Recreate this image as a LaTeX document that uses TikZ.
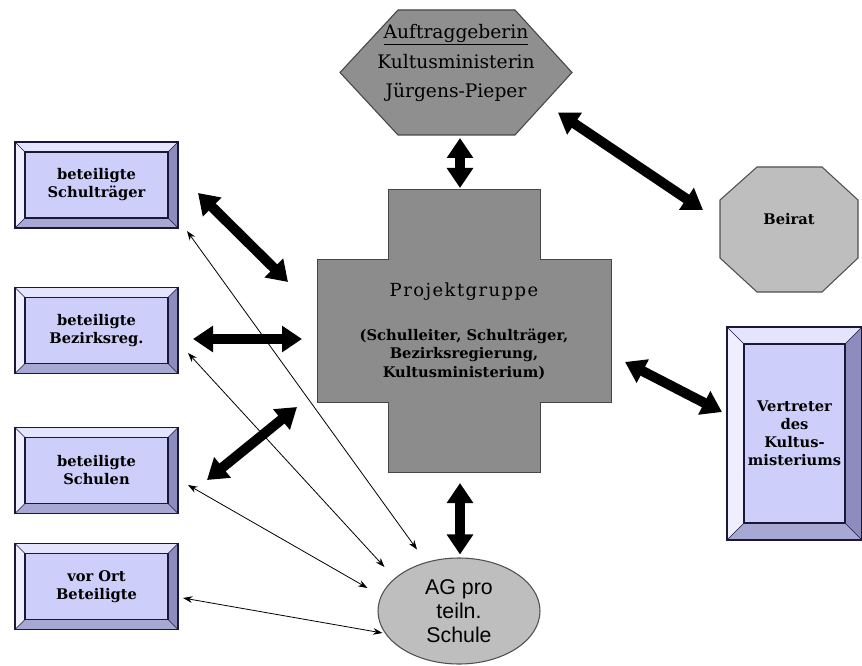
\documentclass[tikz,border=0pt]{standalone}
\usepackage{fontspec}
\setmainfont{DejaVu Serif}
\setsansfont{Liberation Sans}
\usetikzlibrary{arrows.meta,shapes.geometric}
\tikzset{every picture/.style={line width=0.75pt}}

\begin{document}
\begin{tikzpicture}[x=0.75pt,y=0.75pt,yscale=-1,xscale=1,
  bevelbox/.style={fill={rgb, 255:red, 206; green, 206; blue, 250}, inner sep=0pt, outer sep=0pt, align=center, font=\bfseries\fontsize{11}{13.5}\selectfont},
  bevtop/.style={fill={rgb, 255:red, 228; green, 228; blue, 252}},
  bevleft/.style={fill={rgb, 255:red, 238; green, 238; blue, 255}},
  bevright/.style={fill={rgb, 255:red, 140; green, 140; blue, 190}},
  bevbottom/.style={fill={rgb, 255:red, 168; green, 168; blue, 212}},
  boxline/.style={draw={rgb, 255:red, 25; green, 25; blue, 55}, line width=0.9pt},
  greyshape/.style={draw={rgb, 255:red, 70; green, 70; blue, 70}, fill={rgb, 255:red, 143; green, 143; blue, 143}, line width=0.8pt},
  lightshape/.style={draw={rgb, 255:red, 80; green, 80; blue, 80}, fill={rgb, 255:red, 190; green, 190; blue, 190}, line width=0.8pt},
  crossfill/.style={fill={rgb, 255:red, 140; green, 140; blue, 140}, inner sep=0pt, outer sep=0pt},
  geom/.style={inner sep=0pt, outer sep=0pt},
  bigarrow/.style={line width=7.5pt, {Triangle[length=15pt,width=19pt]}-{Triangle[length=15pt,width=19pt]}},
  thinarrow/.style={line width=0.6pt, {Stealth[length=7pt,width=5pt]}-{Stealth[length=7pt,width=5pt]}}
]
\useasboundingbox (0,0) rectangle (862,666);

%Shape: Hexagon
\draw[greyshape] (398,10) -- (515,10) -- (572,72.5) -- (515,135) -- (398,135) -- (340,72.5) -- cycle ;
\node[geom, minimum width=174pt, minimum height=93.75pt] (auftrag) at (456,72.5) {};
% Text Node
\node[align=center, font=\fontsize{14}{22}\selectfont] (auftragtext) at (456,63) {\underline{Auftraggeberin}\\Kultusministerin\\Jürgens-Pieper};

%Shape: Octagon
\draw[lightshape] (757,167) -- (822,167) -- (858,200) -- (858,258) -- (822,292) -- (757,292) -- (720,258) -- (720,200) -- cycle ;
\node[geom, minimum width=103.5pt, minimum height=93.75pt] (beirat) at (789,229.5) {};
% Text Node
\node[font=\bfseries\fontsize{11}{13}\selectfont] (beirattext) at (789,219) {Beirat};

%Shape: Cross
\node[crossfill, minimum width=114pt, minimum height=211.5pt] (projektv) at (464,331) {};
\node[crossfill, minimum width=220.5pt, minimum height=106.5pt, align=center, font=\bfseries\fontsize{11}{14}\selectfont] (projekt) at (464,331) {{\mdseries\fontsize{13.5}{14}\selectfont\addfontfeature{LetterSpace=8}Projektgruppe}\\[19pt](Schulleiter, Schulträger,\\Bezirksregierung,\\Kultusministerium)};
\draw[draw={rgb, 255:red, 70; green, 70; blue, 70}] (projektv.north west) -- (projektv.north east) -- (projektv.east |- projekt.north) -- (projekt.north east) -- (projekt.south east) -- (projektv.east |- projekt.south) -- (projektv.south east) -- (projektv.south west) -- (projektv.west |- projekt.south) -- (projekt.south west) -- (projekt.north west) -- (projektv.west |- projekt.north) -- cycle ;

%Shape: Ellipse
\node[ellipse, lightshape, minimum width=121.5pt, minimum height=79.5pt, inner sep=0pt, align=center, font=\sffamily\fontsize{16}{18}\selectfont] (ag) at (459,611) {AG pro\\teiln.\\Schule};

%Bevelled boxes
\node[bevelbox, minimum width=122.25pt, minimum height=64.5pt] (schultraeger) at (96.5,185) {beteiligte\\Schulträger};
\node[bevelbox, minimum width=122.25pt, minimum height=64.5pt] (bezirk) at (96.5,330.5) {beteiligte\\Bezirksreg.};
\node[bevelbox, minimum width=122.25pt, minimum height=64.5pt] (schulen) at (96.5,470.5) {beteiligte\\Schulen};
\node[bevelbox, minimum width=122.25pt, minimum height=64.5pt] (vorort) at (96.5,586.5) {vor Ort\\Beteiligte};
\node[bevelbox, minimum width=101.25pt, minimum height=159.75pt] (vertreter) at (794.5,433.5) {Vertreter\\des\\Kultus-\\misteriums};

\foreach \bx/\bw in {schultraeger/10,bezirk/10,schulen/10,vorort/10,vertreter/17} {
  \fill[bevtop] (\bx.north west) -- (\bx.north east) -- ([shift={(-\bw,\bw)}]\bx.north east) -- ([shift={(\bw,\bw)}]\bx.north west) -- cycle ;
  \fill[bevleft] (\bx.north west) -- ([shift={(\bw,\bw)}]\bx.north west) -- ([shift={(\bw,-\bw)}]\bx.south west) -- (\bx.south west) -- cycle ;
  \fill[bevright] (\bx.north east) -- ([shift={(-\bw,\bw)}]\bx.north east) -- ([shift={(-\bw,-\bw)}]\bx.south east) -- (\bx.south east) -- cycle ;
  \fill[bevbottom] (\bx.south west) -- ([shift={(\bw,-\bw)}]\bx.south west) -- ([shift={(-\bw,-\bw)}]\bx.south east) -- (\bx.south east) -- cycle ;
  \draw[boxline, line width=0.5pt] (\bx.north west) -- ([shift={(\bw,\bw)}]\bx.north west) (\bx.north east) -- ([shift={(-\bw,\bw)}]\bx.north east) (\bx.south west) -- ([shift={(\bw,-\bw)}]\bx.south west) (\bx.south east) -- ([shift={(-\bw,-\bw)}]\bx.south east) ;
  \draw[boxline] ([shift={(\bw,\bw)}]\bx.north west) rectangle ([shift={(-\bw,-\bw)}]\bx.south east) ;
  \draw[boxline] (\bx.north west) rectangle (\bx.south east) ;
}

%Straight Lines (thick)
\draw[bigarrow] ([shift={(4,3)}]auftrag.south) -- ([shift={(-4,-2)}]projektv.north) ;
\draw[bigarrow] ([shift={(-14,40)}]auftrag.east) -- ([shift={(-17,-19.5)}]beirat.west) ;
\draw[bigarrow] ([shift={(20,8)}]schultraeger.east) -- ([shift={(-29,22)}]projekt.north west) ;
\draw[bigarrow] ([shift={(15,8.5)}]bezirk.east) -- ([shift={(-15,8)}]projekt.west) ;
\draw[bigarrow] ([shift={(29,9.5)}]schulen.east) -- ([shift={(-20,5)}]projekt.south west) ;
\draw[bigarrow] ([shift={(14,31)}]projekt.east) -- ([shift={(-5,-21.5)}]vertreter.west) ;
\draw[bigarrow] ([shift={(-4,11)}]projektv.south) -- ([shift={(1,-3)}]ag.north) ;

%Straight Lines (thin)
\draw[thinarrow] ([shift={(9,3)}]schultraeger.south east) -- ([shift={(-42,-8)}]ag.north) ;
\draw[thinarrow] ([shift={(10,-20.5)}]bezirk.south east) -- ([shift={(7,-44)}]ag.west) ;
\draw[thinarrow] ([shift={(10,-28.5)}]schulen.south east) -- ([shift={(-10,-23)}]ag.west) ;
\draw[thinarrow] ([shift={(5,11.5)}]vorort.east) -- ([shift={(5,22)}]ag.west) ;

\end{tikzpicture}
\end{document}
